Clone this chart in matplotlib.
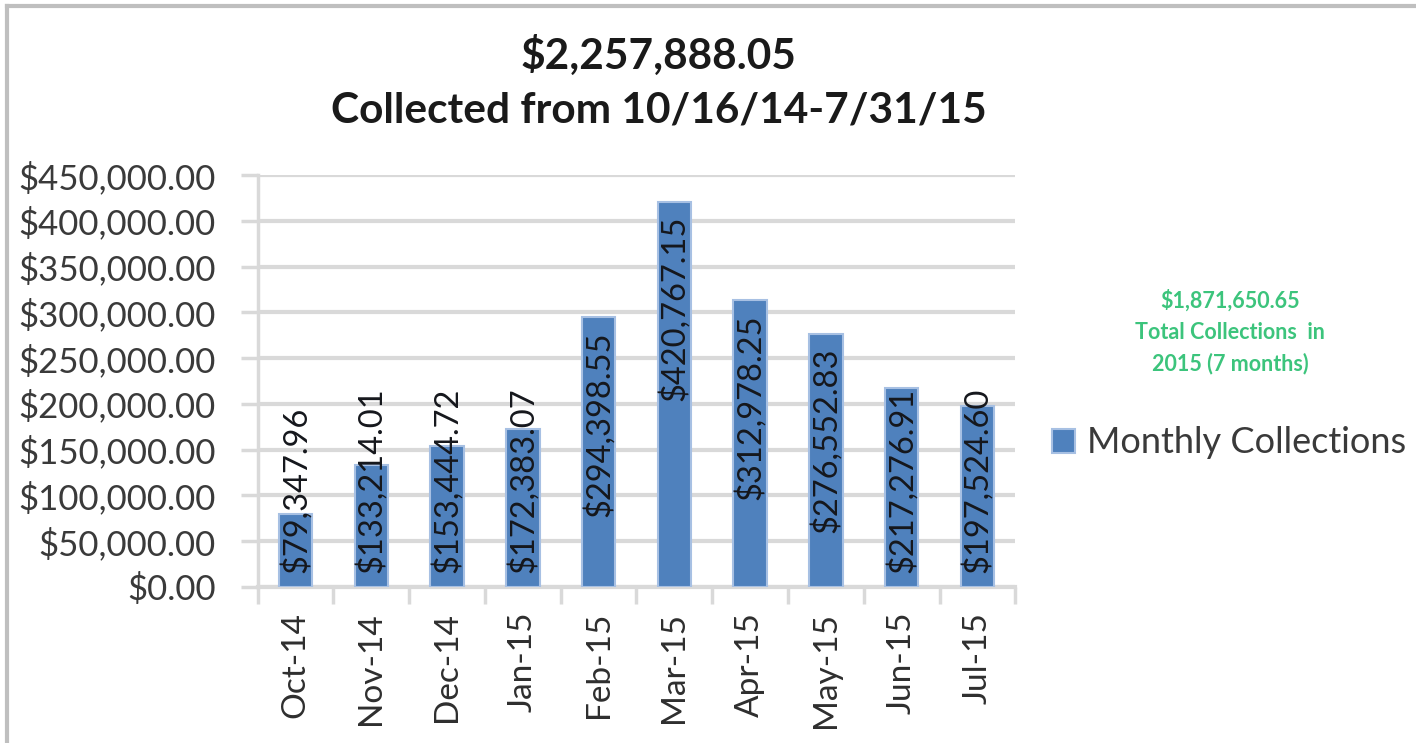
import matplotlib
matplotlib.use('Agg')
import matplotlib.pyplot as plt
import numpy as np
from matplotlib.lines import Line2D
from matplotlib.ticker import FuncFormatter, FixedLocator

plt.rcParams['font.family'] = ['Lato', 'DejaVu Sans']

# --- data ---
months = ['Oct-14', 'Nov-14', 'Dec-14', 'Jan-15', 'Feb-15',
          'Mar-15', 'Apr-15', 'May-15', 'Jun-15', 'Jul-15']
collections = [79347.96, 133214.01, 153444.72, 172383.07, 294398.55,
               420767.15, 312978.25, 276552.83, 217276.91, 197524.60]
y_ticks = list(range(0, 450001, 50000))

title_text = '$2,257,888.05\nCollected from 10/16/14-7/31/15'
note_text = '$1,871,650.65\nTotal Collections  in\n2015 (7 months)'
series_name = 'Monthly Collections'

BAR_COLOR = '#4f81bd'
GRID_COLOR = '#d9d9d9'

fig = plt.figure(figsize=(14.16, 7.43), dpi=100)
fig.patch.set_facecolor('white')

# chart frame: only the left and top edges show in the reference
fx, fy = 7 / 1416, 1 - 6 / 743
fig.lines.append(Line2D([fx, fx], [0, fy], transform=fig.transFigure,
                        color='#bfbfbf', linewidth=3))
fig.lines.append(Line2D([fx, 1], [fy, fy], transform=fig.transFigure,
                        color='#bfbfbf', linewidth=3))

ax = fig.add_axes([0.182, 0.21, 0.535, 0.5545])
x = np.arange(len(months))
bars = ax.bar(x, collections, width=0.44, color=BAR_COLOR,
              edgecolor='#a7c0e3', linewidth=1.5, label=series_name, zorder=3)

ax.set_xlim(-0.5, len(months) - 0.5)
ax.set_ylim(0, 450000)
ax.yaxis.set_major_locator(FixedLocator(y_ticks))
ax.yaxis.set_major_formatter(FuncFormatter(lambda v, p: f'${v:,.2f}'))
ax.grid(axis='y', color=GRID_COLOR, linewidth=3, zorder=0)
ax.set_axisbelow(True)

for s in ['top', 'right']:
    ax.spines[s].set_visible(False)
ax.spines['left'].set_color(GRID_COLOR)
ax.spines['left'].set_linewidth(2.5)
ax.spines['bottom'].set_color(GRID_COLOR)
ax.spines['bottom'].set_linewidth(3)

ax.tick_params(axis='y', labelsize=25, colors=GRID_COLOR, labelcolor='#3a3a3a',
               length=12, width=2.5, pad=18)
ax.set_xticks(x)
ax.set_xticklabels(months, rotation=90, fontsize=24, color='#2e2e2e')
ax.tick_params(axis='x', length=0, pad=18)
# category boundary ticks
ax.set_xticks(np.arange(-0.5, len(months), 1.0), minor=True)
ax.tick_params(axis='x', which='minor', length=12, width=2.5, colors=GRID_COLOR)

# data labels: inside end, pushed up from the base when the bar is too short
pad = 15000
label_len = 213000
for xi, v in zip(x, collections):
    txt = f'${v:,.2f}'
    if v - pad - label_len > pad:
        ax.text(xi, v - pad, txt, rotation=90, ha='center', va='top',
                fontsize=23.5, color='#15171c', zorder=4)
    else:
        ax.text(xi, pad, txt, rotation=90, ha='center', va='bottom',
                fontsize=23.5, color='#15171c', zorder=4)

fig.text(0.465, 0.889, title_text, ha='center', va='center', fontsize=30.5,
         fontweight='bold', color='#1a1a1a', linespacing=1.5)

fig.text(0.8686, 0.553, note_text, ha='center', va='center', fontsize=15.5,
         fontweight='bold', color='#3cc47c', linespacing=1.58)

fig.legend(handles=[bars], labels=[series_name], loc='center left',
           bbox_to_anchor=(0.743, 0.404), frameon=False, fontsize=26,
           borderpad=0, borderaxespad=0,
           handlelength=0.64, handleheight=0.64, handletextpad=0.33,
           labelcolor='#3a3a3a')

fig.savefig('out.png', dpi=100)
